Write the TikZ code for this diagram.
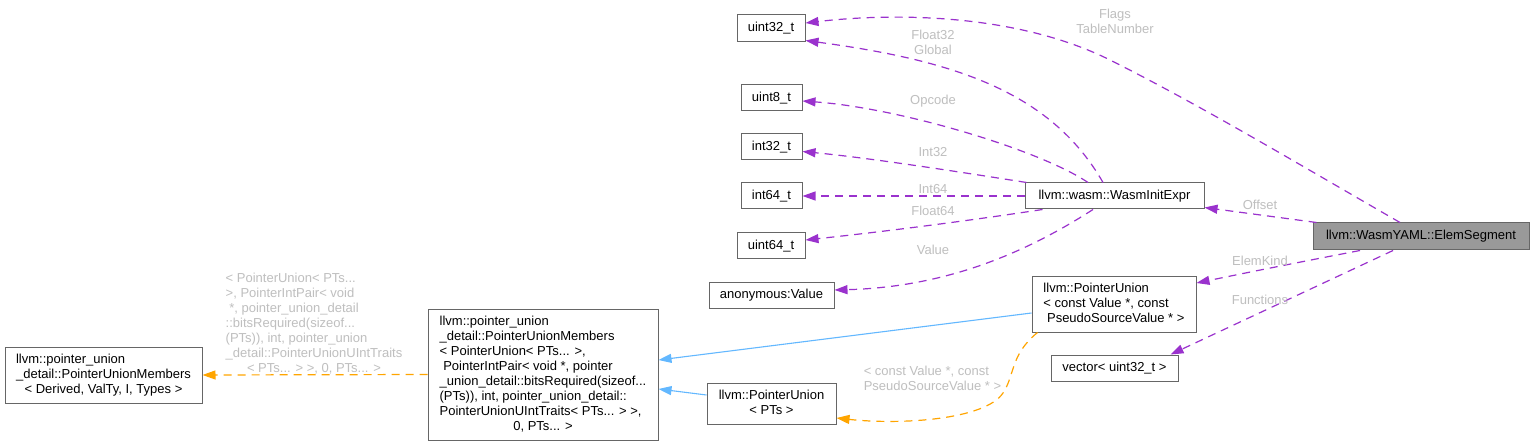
\documentclass[tikz,border=0pt]{standalone}
\usepackage{fontspec}
\setmainfont{Liberation Sans}
\usetikzlibrary{arrows.meta}
\definecolor{boxline}{HTML}{666666}
\definecolor{boxfill}{HTML}{999999}
\definecolor{purp}{HTML}{9A32CD}
\definecolor{inhblue}{HTML}{63B8FF}
\definecolor{tmplorange}{HTML}{FFA500}
\definecolor{lblgray}{HTML}{BFBFBF}
\newcommand{\dfs}{\fontsize{13}{15}\selectfont}
\newcommand{\dlines}[2]{\begin{tabular}{@{}l@{}}#1\\\multicolumn{1}{@{}c@{}}{#2}\end{tabular}}
\tikzset{
  box/.style={draw=boxline, line width=1pt, fill=white, font=\dfs, text=black, inner sep=0pt, minimum height=26pt},
  hl/.style={box, fill=boxfill},
  dep/.style={draw=purp, line width=1.2pt, dash pattern=on 8pt off 6pt, -{Triangle[length=13pt,width=9pt]}},
  inh/.style={draw=inhblue, line width=1.1pt, -{Triangle[length=13pt,width=9pt]}},
  tpl/.style={draw=tmplorange, line width=1.2pt, dash pattern=on 8pt off 6pt, -{Triangle[length=13pt,width=9pt]}},
  lbl/.style={text=lblgray, font=\dfs, inner sep=0pt, align=center}
}
\begin{document}
\begin{tikzpicture}[x=1pt,y=-1pt]
\fill[white] (0,0) rectangle (1533,446);
\useasboundingbox (0,0) rectangle (1533,446);
% nodes
\node[box, minimum width=68pt, minimum height=27pt] (u32) at (771,28.5) {uint32\_t};
\node[box, minimum width=61pt] (u8) at (771.5,98) {uint8\_t};
\node[box, minimum width=61pt] (i32) at (771.5,147) {int32\_t};
\node[box, minimum width=61pt] (i64) at (771.5,196) {int64\_t};
\node[box, minimum width=68pt] (u64) at (771,246) {uint64\_t};
\node[box, minimum width=125pt] (anon) at (771.5,295) {anonymous:Value};
\node[box, minimum width=179pt] (wie) at (1114.5,196) {llvm::wasm::WasmInitExpr};
\node[hl, minimum width=216pt, minimum height=27pt] (es) at (1421,236.5) {llvm::WasmYAML::ElemSegment};
\node[box, minimum width=164pt, minimum height=56pt] (puc) at (1114,304) {\dlines{llvm::PointerUnion\\< const Value *, const}{\ PseudoSourceValue * >}};
\node[box, minimum width=127pt] (vec) at (1114.5,368) {vector< uint32\_t >};
\node[box, minimum width=129pt, minimum height=41pt] (pts) at (771.5,403.5) {\dlines{llvm::PointerUnion}{< PTs >}};
\node[box, minimum width=230pt, minimum height=131pt] (big) at (543,374.5) {\dlines{llvm::pointer\_union\\\_detail::PointerUnionMembers\\< PointerUnion< PTs... >,\\\ PointerIntPair< void *, pointer\\\_union\_detail::bitsRequired(sizeof...\\(PTs)), int, pointer\_union\_detail::\\PointerUnionUIntTraits< PTs... > >,}{0, PTs... >}};
\node[box, minimum width=197pt, minimum height=56pt] (lft) at (103.5,375) {\dlines{llvm::pointer\_union\\\_detail::PointerUnionMembers}{< Derived, ValTy, I, Types >}};
% connectors
\draw[dep] ([xshift=-21pt]es.north) .. controls (1300,165) and (1200,105) .. (1110,60) .. controls (1020,15) and (900,12) .. ([yshift=5.5pt]u32.east);
\draw[dep] ([xshift=-11.5pt]wie.north) .. controls (1050,90) and (950,60) .. ([yshift=2pt]u32.south east);
\draw[dep] ([xshift=-26.5pt]wie.north) .. controls (1040,150) and (900,108) .. ([yshift=-3pt]u8.east);
\draw[dep] ([xshift=2pt]wie.north west) .. controls (960,172) and (870,158) .. ([yshift=-4.5pt]i32.east);
\draw[dep] (wie.west) -- (i64.east);
\draw[dep] ([xshift=18pt]wie.south west) .. controls (960,222) and (880,232) .. ([yshift=6pt]u64.east);
\draw[dep] ([xshift=-21.5pt]wie.south) .. controls (1030,250) and (950,287) .. ([yshift=5pt]anon.east);
\draw[dep] ([xshift=4pt]es.north west) -- ([yshift=2pt]wie.south east);
\draw[dep] ([xshift=-61pt]es.south) .. controls (1300,262) and (1250,272) .. ([yshift=21pt]puc.east);
\draw[dep] ([xshift=-28pt]es.south) -- ([xshift=-8pt]vec.north east);
\draw[inh] ([yshift=-9pt]puc.west) -- ([yshift=14.5pt]big.east);
\draw[inh] ([yshift=8.5pt]pts.west) -- ([yshift=-14.5pt]big.east);
\draw[tpl] ([xshift=6pt]puc.south west) .. controls (1010,355) and (1015,375) .. (1003,393) .. controls (985,420) and (900,425) .. ([yshift=-14.5pt]pts.east);
\draw[tpl] (big.west) -- (lft.east);
% labels
\node[lbl] (lflags) at (1115,21) {Flags\\TableNumber};
\node[lbl] (lfloat32) at (933,42) {Float32\\Global};
\node[lbl] (lopcode) at (933,101) {Opcode};
\node[lbl] (lint32) at (933,152) {Int32};
\node[lbl] (lint64) at (933,189) {Int64};
\node[lbl] (lfloat64) at (933,211) {Float64};
\node[lbl] (lvalue) at (933,250) {Value};
\node[lbl] (loffset) at (1260,205) {Offset};
\node[lbl] (lelemkind) at (1260,261) {ElemKind};
\node[lbl] (lfunctions) at (1260,300) {Functions};
\node[lbl] (ltpl) at (932.5,379.5) {\dlines{< const Value *, const}{PseudoSourceValue * >}};
\node[lbl] (lbig) at (314,324) {\dlines{< PointerUnion< PTs...\\>, PointerIntPair< void\\\ *, pointer\_union\_detail\\::bitsRequired(sizeof...\\(PTs)), int, pointer\_union\\\_detail::PointerUnionUIntTraits}{< PTs... > >, 0, PTs... >}};
\end{tikzpicture}
\end{document}
